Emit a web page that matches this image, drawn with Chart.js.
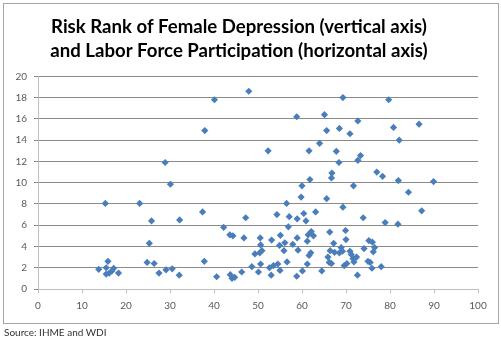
<!DOCTYPE html>
<html lang="en">
<head>
  <meta charset="UTF-8" />
  <title>Risk Rank of Female Depression and Labor Force Participation</title>
  <script src="https://cdn.jsdelivr.net/npm/chart.js"></script>
  <style>
    body {
      margin: 0;
      background-color: white;
      font-family: 'Lato', sans-serif;
    }
    #wrap {
      position: relative;
      width: 501px;
      height: 341px;
    }
    #frame {
      position: absolute;
      left: 3px;
      top: 3px;
      width: 496px;
      height: 321px;
      border: 1px solid #a6a6a6;
      box-sizing: border-box;
    }
    #chart {
      position: absolute;
      left: 0;
      top: 0;
    }
    #source {
      position: absolute;
      left: 4px;
      top: 326px;
      font-size: 10px;
      color: #333333;
    }
  </style>
</head>
<body>
  <div id="wrap">
    <div id="frame"></div>
    <canvas id="chart" width="501" height="341"></canvas>
    <div id="source">Source: IHME and WDI</div>
  </div>
  <script>
    // labor force participation (horizontal axis)
    const labor = [
      13.8, 15.5, 15.9, 15.5, 16.2, 16.8, 17.2, 18.3, 15.3, 23.1,
      25.8, 25.3, 24.8, 26.4, 27.5, 28.9, 30.1, 29.1, 30.5, 32.1,
      32.2, 37.4, 37.9, 37.8, 40.1, 40.6, 42.2, 43.6, 44.3, 43.7,
      44.1, 44.7, 46.3, 46.8, 47.2, 47.9, 48.6, 49.3, 50.1, 50.5,
      50.6, 50.6, 50.9, 50.4, 52.3, 52.6, 53.1, 53.0, 53.5, 54.3,
      54.5, 55.0, 54.9, 55.1, 55.9, 56.1, 56.5, 56.6, 57.1, 56.9,
      57.9, 58.8, 58.9, 58.9, 58.8, 59.1, 59.8, 60.0, 60.1, 60.4,
      60.9, 61.2, 61.4, 61.2, 61.6, 61.8, 61.6, 62.0, 62.1, 62.6,
      63.1, 64.0, 64.5, 65.1, 65.6, 65.6, 66.3, 66.8, 66.7, 68.5,
      70.9, 69.3, 79.7, 72.7, 80.8, 82.1, 86.6, 67.8, 68.4, 72.7,
      73.3, 77.0, 78.3, 71.7, 81.9, 89.9, 84.2, 69.3, 87.2, 73.9,
      78.9, 81.8, 69.9, 70.0, 67.2, 75.2, 76.0, 74.1, 76.5, 76.2,
      68.9, 66.4, 67.4, 68.5, 69.2, 70.9, 71.2, 65.9, 71.6, 72.4,
      71.8, 66.2, 66.7, 75.0, 75.5, 75.9, 69.6, 70.2, 78.0, 72.6
    ];
    // risk rank of female depression (vertical axis)
    const risk = [
      1.85, 2.0, 2.6, 1.4, 1.5, 1.7, 1.95, 1.5, 8.05, 8.05,
      6.4, 4.3, 2.5, 2.4, 1.5, 11.9, 9.85, 1.8, 1.9, 1.3,
      6.5, 7.25, 14.9, 2.6, 17.8, 1.15, 5.8, 5.1, 5.0, 1.35,
      1.0, 1.1, 1.6, 4.8, 6.7, 18.6, 2.1, 3.3, 1.6, 4.8,
      4.15, 2.35, 3.6, 3.4, 13.0, 2.0, 4.6, 1.3, 2.2, 7.0,
      2.35, 1.75, 4.1, 5.05, 3.6, 4.35, 8.05, 2.55, 6.8, 5.85,
      4.2, 16.2, 6.6, 4.8, 1.2, 3.65, 8.65, 9.7, 1.7, 7.1,
      6.4, 2.35, 5.1, 4.5, 13.0, 10.3, 3.15, 3.4, 5.4, 5.0,
      7.25, 13.7, 1.7, 16.4, 14.9, 8.5, 5.35, 10.9, 10.45, 15.1,
      14.6, 18.0, 17.8, 15.8, 15.2, 14.0, 15.5, 12.95, 11.9, 12.1,
      12.55, 11.0, 10.6, 9.7, 10.2, 10.1, 9.1, 7.7, 7.35, 6.7,
      6.25, 6.1, 5.5, 4.65, 4.3, 4.55, 4.4, 3.8, 3.9, 3.5,
      3.9, 3.6, 3.45, 3.4, 3.55, 3.55, 3.25, 3.0, 2.85, 3.0,
      2.55, 2.5, 2.4, 2.6, 2.5, 1.95, 2.2, 2.4, 2.1, 1.3
    ];
    const titleLines = [
      'Risk Rank of Female Depression (vertical axis)',
      'and Labor Force Participation (horizontal axis)'
    ];

    const points = labor.map((x, i) => ({ x: x, y: risk[i] }));
    const tickFont = { family: 'Lato', size: 10 };

    new Chart(document.getElementById('chart'), {
      type: 'scatter',
      data: {
        datasets: [{
          data: points,
          pointStyle: 'rectRot',
          pointRadius: 3.6,
          pointHoverRadius: 3.6,
          backgroundColor: '#4a7ebb',
          borderColor: '#4a7ebb',
          borderWidth: 0
        }]
      },
      options: {
        responsive: false,
        animation: false,
        layout: { padding: { left: 0, right: 23, top: 0, bottom: 0 } },
        plugins: {
          legend: { display: false },
          tooltip: { enabled: false },
          title: {
            display: true,
            text: titleLines,
            color: '#000000',
            font: { family: 'Lato', size: 18.6, weight: 'bold', lineHeight: 1.3 },
            padding: { top: 15, bottom: 13 }
          }
        },
        scales: {
          x: {
            type: 'linear',
            min: 0,
            max: 100,
            ticks: { stepSize: 10, color: '#595959', font: tickFont, padding: 7, maxRotation: 0 },
            grid: { drawOnChartArea: false, drawTicks: true, tickLength: 4, color: '#bfbfbf' },
            border: { color: '#bfbfbf' },
            afterFit: (scale) => { scale.height = 52; }
          },
          y: {
            min: 0,
            max: 20,
            ticks: { stepSize: 2, color: '#595959', font: tickFont, padding: 7 },
            grid: { color: '#8a8a8a', tickLength: 4 },
            border: { color: '#bfbfbf' },
            afterFit: (scale) => { scale.width = 38; }
          }
        }
      }
    });
  </script>
</body>
</html>
